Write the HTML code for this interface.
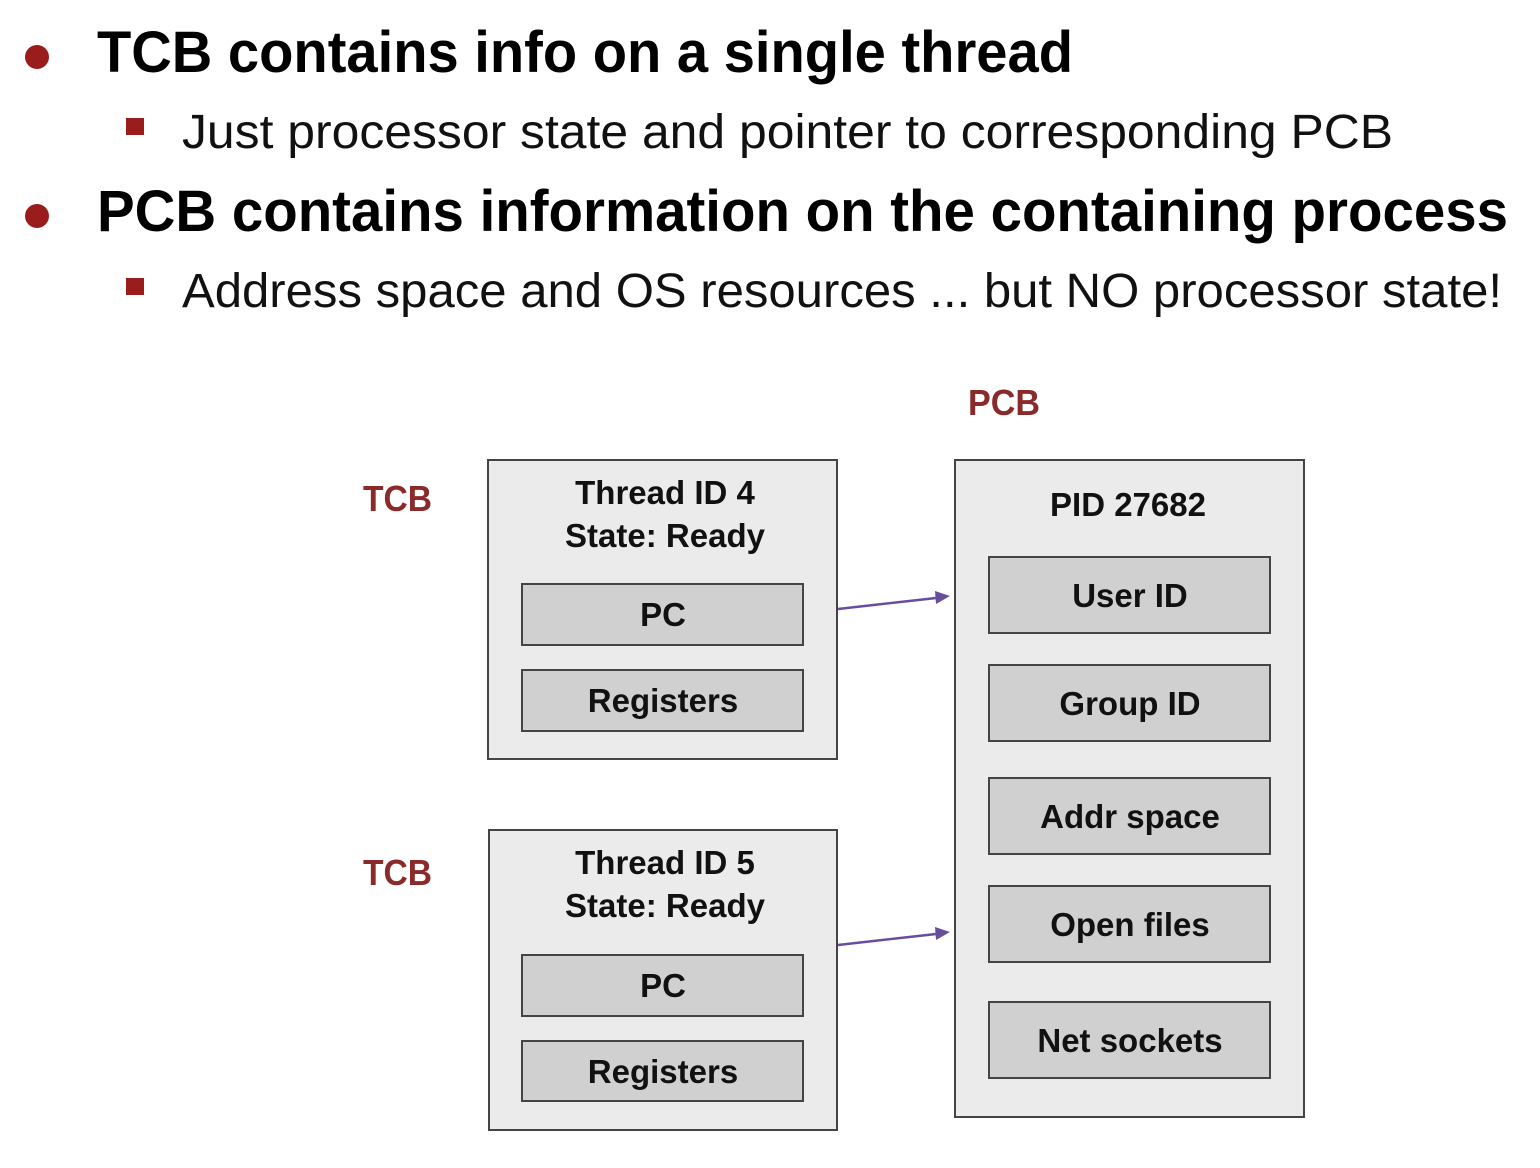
<!DOCTYPE html>
<html><head><meta charset="utf-8"><style>html,body{margin:0;padding:0;background:#fff}svg{display:block}</style></head>
<body>
<svg width="1540" height="1168" viewBox="0 0 1540 1168" xmlns="http://www.w3.org/2000/svg" font-family="Liberation Sans, sans-serif">
<rect width="1540" height="1168" fill="#fff"/>
<circle cx="37" cy="57" r="12" fill="#9b1c1c"/>
<circle cx="37" cy="216" r="12" fill="#9b1c1c"/>
<rect x="126" y="118" width="18" height="17" fill="#9b1c1c"/>
<rect x="126" y="278" width="18" height="17" fill="#9b1c1c"/>
<g fill="#000">
<text x="97" y="72" font-size="58" font-weight="bold" textLength="976" lengthAdjust="spacingAndGlyphs">TCB contains info on a single thread</text>
<text x="182" y="148" font-size="48" textLength="1211" lengthAdjust="spacingAndGlyphs" fill="#111">Just processor state and pointer to corresponding PCB</text>
<text x="97" y="231" font-size="58" font-weight="bold" textLength="1411" lengthAdjust="spacingAndGlyphs">PCB contains information on the containing process</text>
<text x="182" y="307" font-size="48" textLength="1320" lengthAdjust="spacingAndGlyphs" fill="#111">Address space and OS resources ... but NO processor state!</text>
</g>
<g font-weight="bold" font-size="36" fill="#8b2a2a">
<text x="363" y="511" textLength="69" lengthAdjust="spacingAndGlyphs">TCB</text>
<text x="363" y="885" textLength="69" lengthAdjust="spacingAndGlyphs">TCB</text>
<text x="968" y="415" textLength="72" lengthAdjust="spacingAndGlyphs">PCB</text>
</g>
<g stroke="#444" stroke-width="2">
<rect x="488" y="460" width="349" height="299" fill="#ebebeb"/>
<rect x="522" y="584" width="281" height="61" fill="#d0d0d0"/>
<rect x="522" y="670" width="281" height="61" fill="#d0d0d0"/>
<rect x="489" y="830" width="348" height="300" fill="#ebebeb"/>
<rect x="522" y="955" width="281" height="61" fill="#d0d0d0"/>
<rect x="522" y="1041" width="281" height="60" fill="#d0d0d0"/>
<rect x="955" y="460" width="349" height="657" fill="#ebebeb"/>
<rect x="989" y="557" width="281" height="76" fill="#d0d0d0"/>
<rect x="989" y="665" width="281" height="76" fill="#d0d0d0"/>
<rect x="989" y="778" width="281" height="76" fill="#d0d0d0"/>
<rect x="989" y="886" width="281" height="76" fill="#d0d0d0"/>
<rect x="989" y="1002" width="281" height="76" fill="#d0d0d0"/>
</g>
<g font-weight="bold" font-size="33" fill="#111" text-anchor="middle">
<text x="665" y="504">Thread ID 4</text>
<text x="665" y="547">State: Ready</text>
<text x="663" y="626">PC</text>
<text x="663" y="712">Registers</text>
<text x="665" y="874">Thread ID 5</text>
<text x="665" y="917">State: Ready</text>
<text x="663" y="997">PC</text>
<text x="663" y="1083">Registers</text>
<text x="1128" y="516">PID 27682</text>
<text x="1130" y="607">User ID</text>
<text x="1130" y="715">Group ID</text>
<text x="1130" y="828">Addr space</text>
<text x="1130" y="936">Open files</text>
<text x="1130" y="1052">Net sockets</text>
</g>
<g stroke="#6a4c9c" stroke-width="2.5" fill="#6a4c9c">
<line x1="838" y1="609" x2="936" y2="598"/>
<polygon points="950,596 935,591 936,604" stroke="none"/>
<line x1="838" y1="945" x2="936" y2="934"/>
<polygon points="950,932 935,927 936,940" stroke="none"/>
</g>
</svg>
</body></html>
